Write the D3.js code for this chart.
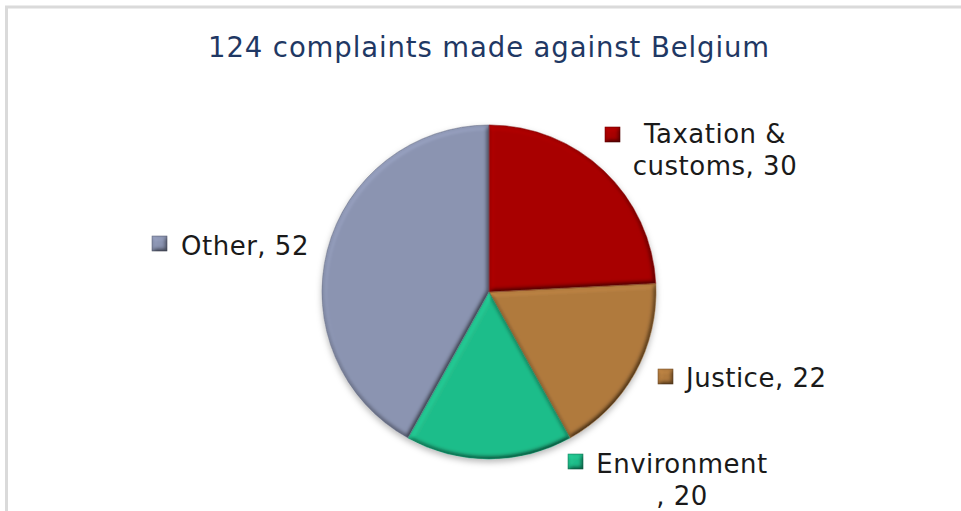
<!DOCTYPE html>
<html>
<head>
<meta charset="utf-8">
<script src="https://cdn.jsdelivr.net/npm/d3@7"></script>
<style>
  html, body { margin: 0; padding: 0; background: #fff; }
  svg { display: block; }
  text { font-family: Verdana, "DejaVu Sans", sans-serif; }
</style>
</head>
<body>
<svg id="chart" width="961" height="511"></svg>
<script>
// Complaints by subject
const categories = ["Taxation & customs", "Justice", "Environment", "Other"];
const values = [30, 22, 20, 52];
const sliceColors = ["#a80303", "#b07a3e", "#1fbd8a", "#8b94b1"];
const titleText = "124 complaints made against Belgium";
// character count of the first label line (null = single line)
const wrapAt = [10, null, 11, null];

const W = 961, H = 511;
const cx = 489, cy = 292, R = 167;

// label placement: marker box corner, text anchor and first baseline
const labelLayout = [
  { mx: 605, my: 127, tx: 715, ty: 143, anchor: "middle" },
  { mx: 658, my: 369, tx: 686, ty: 387, anchor: "start" },
  { mx: 568, my: 454, tx: 682, ty: 473, anchor: "middle" },
  { mx: 152, my: 236, tx: 181, ty: 255, anchor: "start" }
];

const svg = d3.select("#chart");
const defs = svg.append("defs");

// soft rounded bevel lit from the upper left
const bevel = defs.append("filter").attr("id", "bevel")
  .attr("x", "-10%").attr("y", "-10%").attr("width", "120%").attr("height", "120%");
bevel.append("feGaussianBlur").attr("in", "SourceAlpha").attr("stdDeviation", 2.8).attr("result", "blur");
bevel.append("feDiffuseLighting").attr("in", "blur").attr("surfaceScale", 4)
  .attr("diffuseConstant", 1).attr("lighting-color", "#ffffff").attr("result", "diff")
  .append("feDistantLight").attr("azimuth", 235).attr("elevation", 60);
bevel.append("feComposite").attr("in", "SourceGraphic").attr("in2", "diff")
  .attr("operator", "arithmetic").attr("k1", 1.155).attr("k2", 0).attr("k3", 0).attr("k4", 0)
  .attr("result", "lit");
bevel.append("feComposite").attr("in", "lit").attr("in2", "SourceAlpha").attr("operator", "in");

const shadow = defs.append("filter").attr("id", "shadow")
  .attr("x", "-20%").attr("y", "-20%").attr("width", "140%").attr("height", "140%");
shadow.append("feDropShadow").attr("dx", 0).attr("dy", 3).attr("stdDeviation", 3)
  .attr("flood-color", "#000").attr("flood-opacity", 0.28);

// frame
svg.append("rect")
  .attr("x", 6.5).attr("y", 7).attr("width", W + 20).attr("height", H + 20)
  .attr("fill", "none").attr("stroke", "#dadada").attr("stroke-width", 3);

// title
svg.append("text")
  .attr("x", 489).attr("y", 57)
  .attr("text-anchor", "middle")
  .attr("font-size", 27.5)
  .attr("letter-spacing", 0.9)
  .attr("fill", "#1f3864")
  .text(titleText);

// pie
const pie = d3.pie().sort(null).value(d => d)(values);
const arc = d3.arc().innerRadius(0).outerRadius(R);
const darker = c => d3.color(c).darker(0.7).formatHex();

const pieG = svg.append("g").attr("transform", `translate(${cx},${cy})`)
  .attr("filter", "url(#shadow)");

pieG.selectAll("path.slice")
  .data(pie)
  .join("path")
  .attr("class", "slice")
  .attr("d", arc)
  .attr("fill", (d, i) => sliceColors[i])
  .attr("filter", "url(#bevel)");

pieG.selectAll("path.edge")
  .data(pie)
  .join("path")
  .attr("class", "edge")
  .attr("d", arc)
  .attr("fill", "none")
  .attr("stroke", (d, i) => darker(sliceColors[i]))
  .attr("stroke-opacity", 0.6)
  .attr("stroke-width", 1);

// labels
const labels = svg.append("g").selectAll("g.label")
  .data(categories.map((c, i) => ({ c, v: values[i], i })))
  .join("g").attr("class", "label");

labels.append("rect")
  .attr("x", d => labelLayout[d.i].mx)
  .attr("y", d => labelLayout[d.i].my)
  .attr("width", 15).attr("height", 15)
  .attr("fill", d => sliceColors[d.i])
  .attr("stroke", d => darker(sliceColors[d.i]))
  .attr("stroke-width", 1)
  .attr("filter", "url(#bevel)");

labels.each(function (d) {
  const full = `${d.c}, ${d.v}`;
  const lines = wrapAt[d.i] ? [full.slice(0, wrapAt[d.i]).trim(), full.slice(wrapAt[d.i]).trim()] : [full];
  const L = labelLayout[d.i];
  const t = d3.select(this).append("text")
    .attr("text-anchor", L.anchor)
    .attr("font-size", 26)
    .attr("letter-spacing", 0.5)
    .attr("fill", "#1a1a1a");
  lines.forEach((ln, k) => {
    t.append("tspan").attr("x", L.tx).attr("y", L.ty + k * 32).text(ln);
  });
});
</script>
</body>
</html>
